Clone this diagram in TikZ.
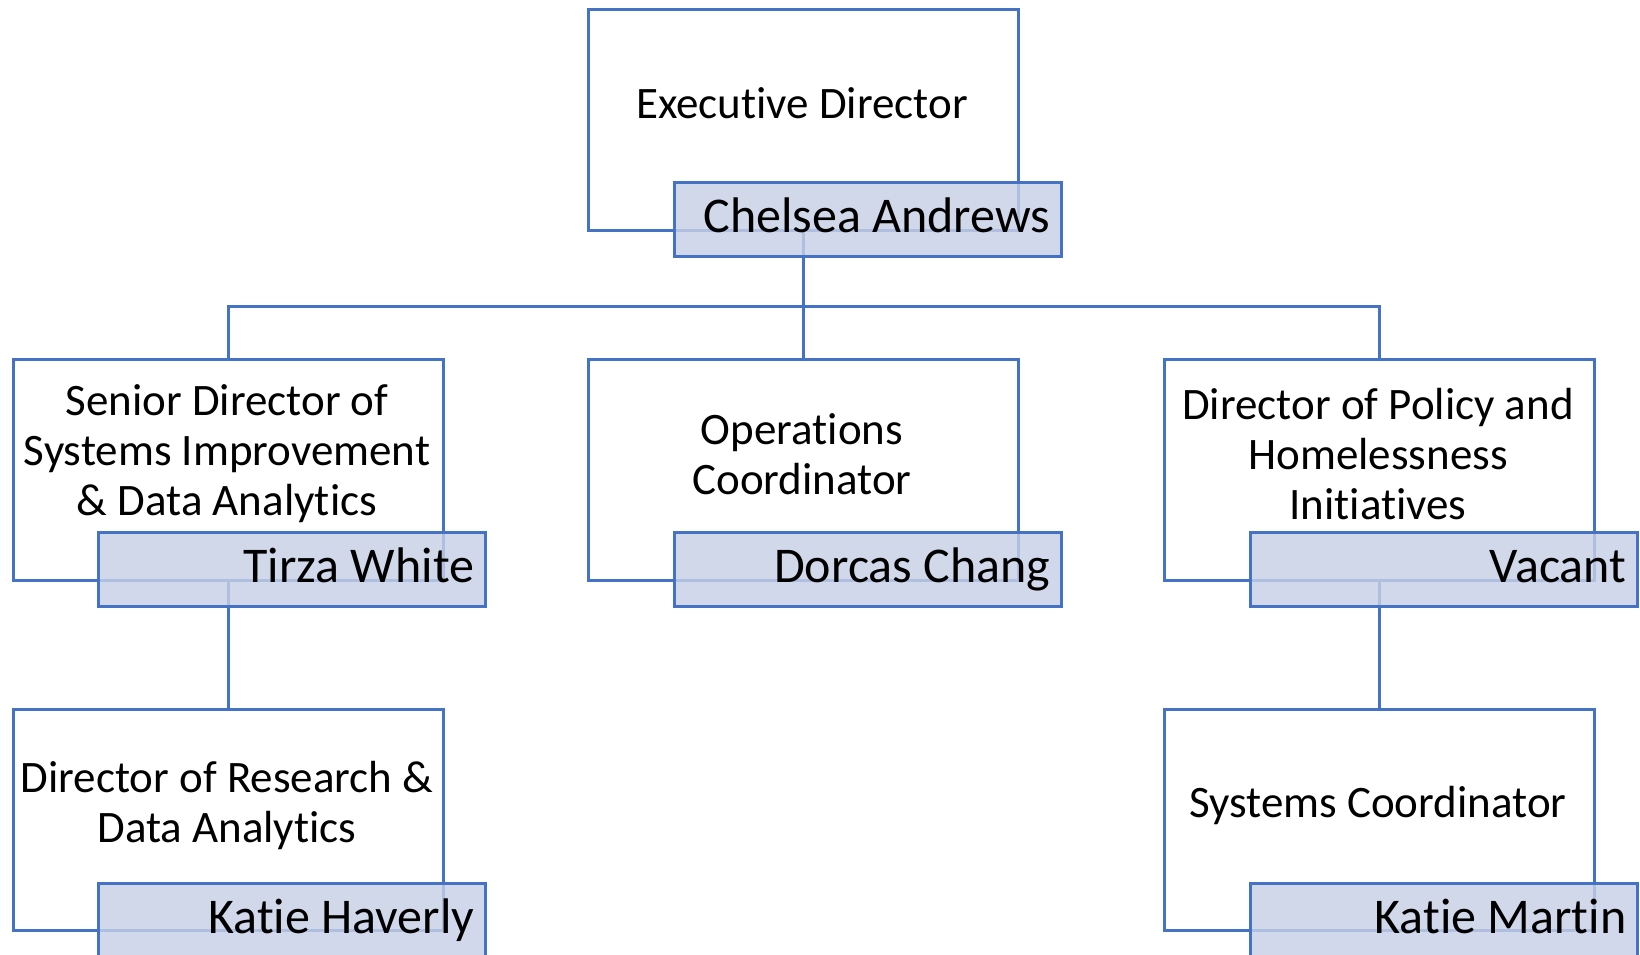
\documentclass[tikz,border=0pt]{standalone}
\usepackage{fontspec}
\setmainfont{Carlito}[Ligatures=NoCommon]
\definecolor{edge}{HTML}{4472C4}
\definecolor{namefill}{RGB}{200,208,230}
\begin{document}
\begin{tikzpicture}[x=1pt,y=-1pt,
  role/.style={draw=edge,line width=2.5pt,fill=white,rectangle,inner sep=0pt,
    minimum width=430pt,minimum height=221pt,anchor=north west},
  title/.style={align=center,font=\fontsize{45}{50}\selectfont,inner sep=0pt},
  person/.style={draw=edge,line width=2.5pt,fill=namefill,fill opacity=0.82,text opacity=1,draw opacity=1,
    rectangle,inner xsep=11pt,inner ysep=0pt,text width=365pt,align=flush right,
    text height=36pt,text depth=10pt,
    minimum height=74pt,anchor=north west,font=\fontsize{50}{58}\selectfont},
  link/.style={draw=edge,line width=2.5pt}]
\useasboundingbox (0,0) rectangle (1640,954);
\coordinate (bus) at (0,306.5);
% role boxes
\node[role] (exec) at (587,8) {};
\node[role] (sen) at (12,358) {};
\node[role] (ops) at (587,358) {};
\node[role] (pol) at (1163,358) {};
\node[role] (res) at (12,708) {};
\node[role] (sys) at (1163,708) {};
% connectors
\draw[link] (exec.south) -- (exec.south |- bus) -| (sen.north);
\draw[link] (exec.south |- bus) -| (pol.north);
\draw[link] (exec.south |- bus) -- (ops.north);
\draw[link] (sen.south) -- (res.north);
\draw[link] (pol.south) -- (sys.north);
% redraw role boxes over connectors
\node[role] at (587,8) {};
\node[role] at (12,358) {};
\node[role] at (587,358) {};
\node[role] at (1163,358) {};
\node[role] at (12,708) {};
\node[role] at (1163,708) {};
% titles
\node[title] (execT) at (802,103) {Executive Director};
\node[title] (senT) at (227,454) {Senior Director of\\Systems Improvement\\\& Data Analytics};
\node[title] (opsT) at (802,454) {Operations\\Coordinator};
\node[title] (polT) at (1378,454) {Director of Policy and\\Homelessness\\Initiatives};
\node[title] (resT) at (227,805) {Director of Research \&\\Data Analytics};
\node[title] (sysT) at (1378,805) {Systems Coordinator};
% connectors from bottom of role boxes visible through name boxes
\draw[link] (exec.south) -- ++(0,30);
\draw[link] (sen.south) -- ++(0,30);
\draw[link] (pol.south) -- ++(0,30);
% name boxes
\node[person] (execN) at (673,181) {Chelsea Andrews};
\node[person] (senN) at (97,531) {Tirza White};
\node[person] (opsN) at (673,531) {Dorcas Chang};
\node[person] (polN) at (1249,531) {Vacant};
\node[person] (resN) at (97,882) {Katie Haverly};
\node[person] (sysN) at (1249,882) {Katie Martin};
\end{tikzpicture}
\end{document}
